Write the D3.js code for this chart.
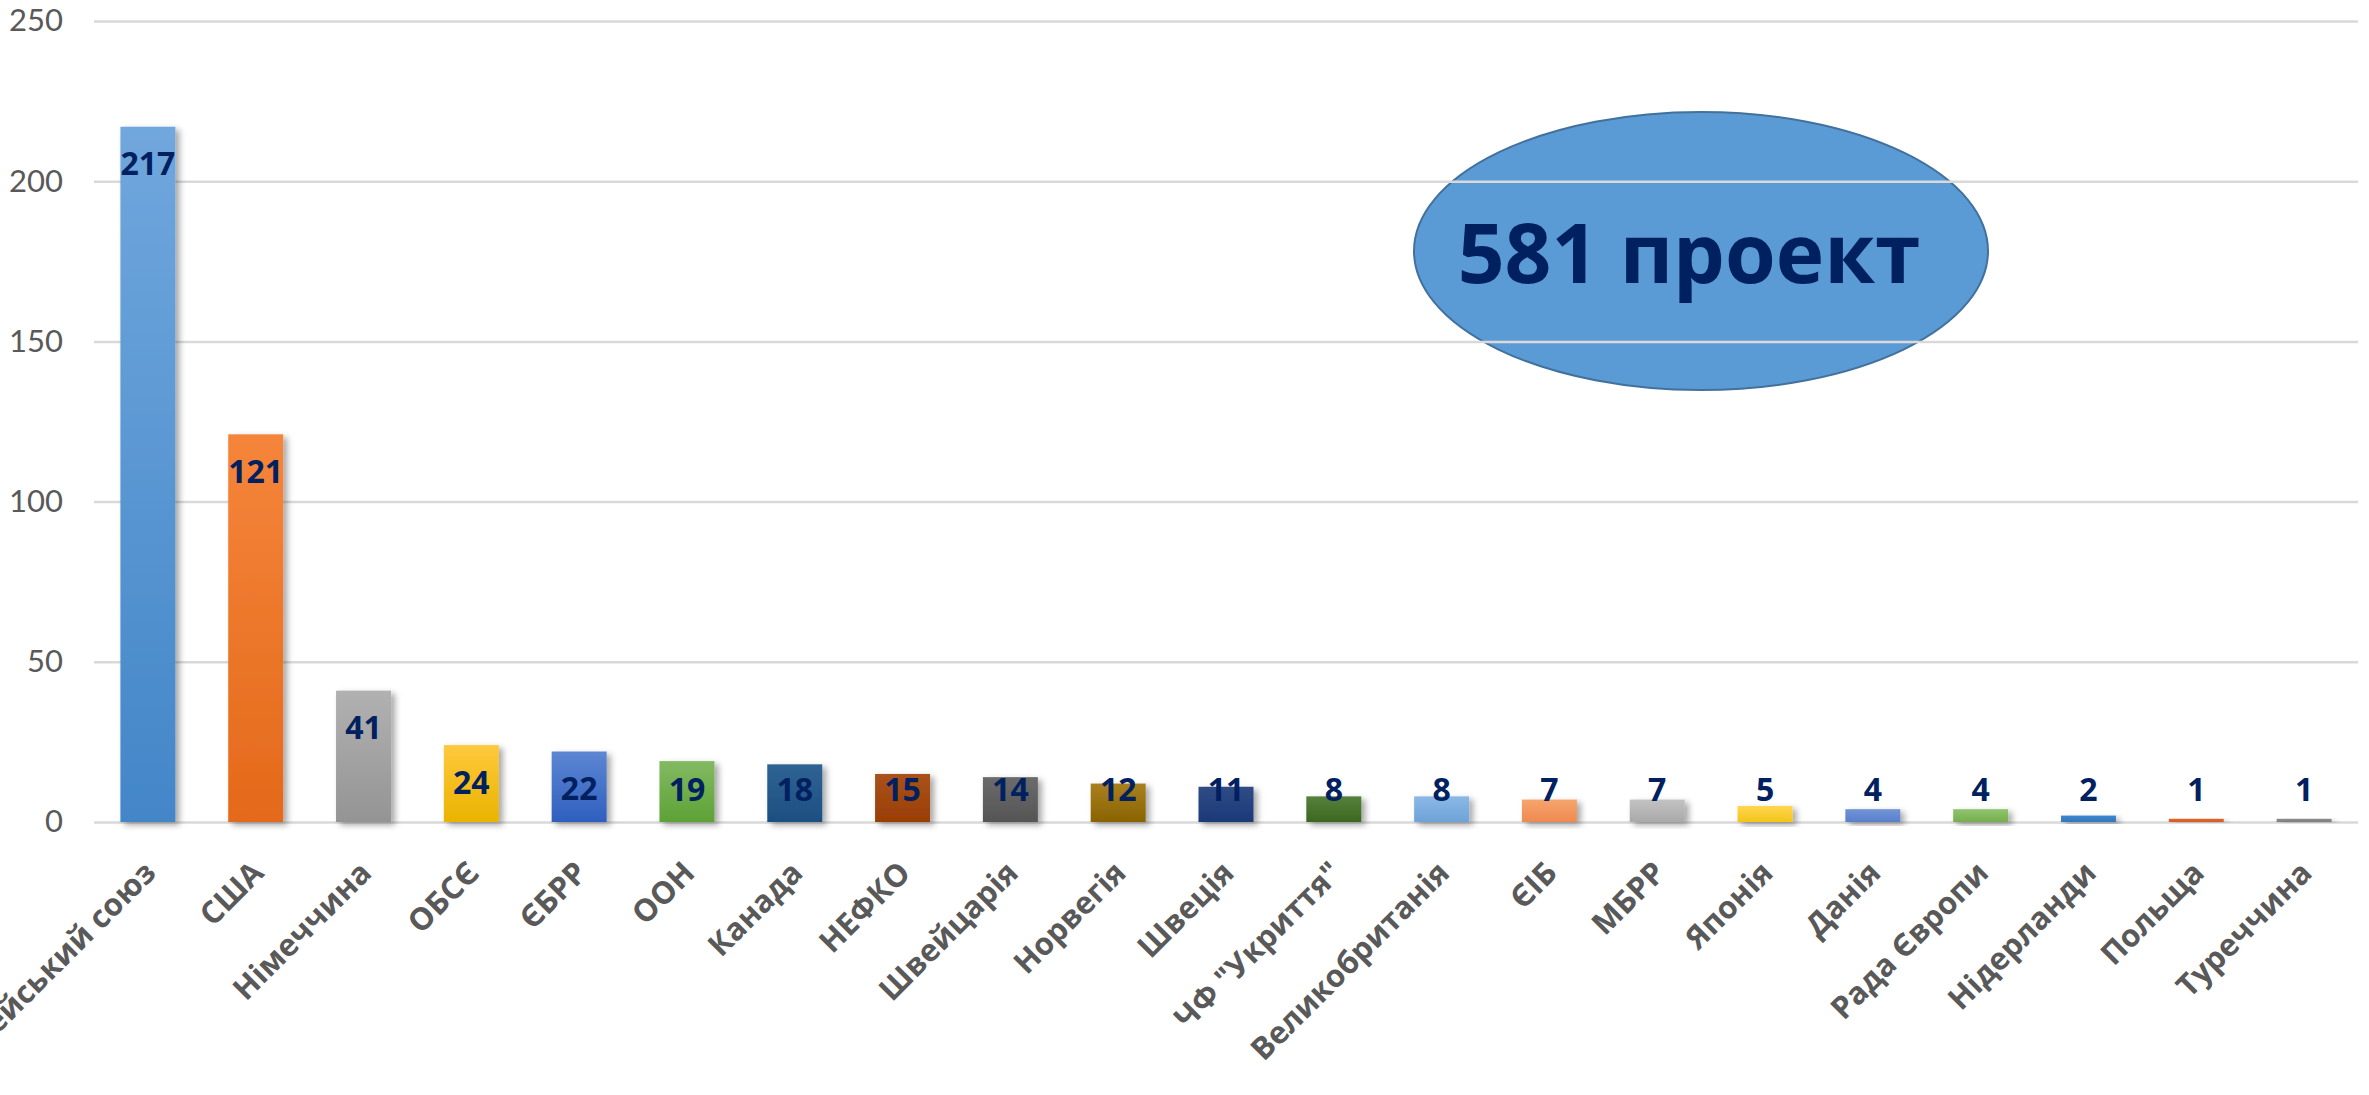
<!DOCTYPE html>
<html>
<head>
<meta charset="utf-8">
<script src="https://cdn.jsdelivr.net/npm/d3@7"></script>
<style>
  body { margin: 0; background: #fff; }
  svg { display: block; }
</style>
</head>
<body>
<div id="chart"></div>
<script>
var width = 2369;
var height = 1095;

// data
var donors = ['Європейський союз', 'США', 'Німеччина', 'ОБСЄ', 'ЄБРР', 'ООН', 'Канада', 'НЕФКО',
  'Швейцарія', 'Норвегія', 'Швеція', 'ЧФ "Укриття"', 'Великобританія', 'ЄІБ', 'МБРР', 'Японія',
  'Данія', 'Рада Європи', 'Нідерланди', 'Польща', 'Туреччина'];
var projects = [217, 121, 41, 24, 22, 19, 18, 15, 14, 12, 11, 8, 8, 7, 7, 5, 4, 4, 2, 1, 1];
var yTicks = [0, 50, 100, 150, 200, 250];
var totalLabel = '581 проект';

// office-like palette, top and bottom of each bar gradient
var topColors = ['#70a7dd', '#f5853b', '#b1b1b1', '#ffc93c', '#5d86d2', '#82b962', '#2f6393', '#aa521c',
  '#6b6b6b', '#a9801f', '#2f4c86', '#56803b', '#8bb9e6', '#f6a46e', '#c2c2c2', '#ffd64f',
  '#7194d6', '#90c46e', '#3f86cc', '#e2672e', '#8e8e8e'];
var bottomColors = ['#4386c8', '#e4691a', '#949494', '#e9b300', '#2f5fbf', '#5ea236', '#1d4f82', '#9a3e04',
  '#555555', '#896300', '#1b3977', '#3c6821', '#6ea2d8', '#ee8a4f', '#a9a9a9', '#f4c41a',
  '#5a7fcc', '#77ae4f', '#2f78c0', '#d95a20', '#7d7d7d'];

var margin = {left: 94, right: 11, top: 21, bottom: 273};

var svg = d3.select('#chart').append('svg')
  .attr('width', width)
  .attr('height', height);

var defs = svg.append('defs');

var shadow = defs.append('filter')
  .attr('id', 'shadow')
  .attr('x', '-20%').attr('y', '-20%')
  .attr('width', '150%').attr('height', '150%');
shadow.append('feDropShadow')
  .attr('dx', 4).attr('dy', 3)
  .attr('stdDeviation', 3)
  .attr('flood-color', '#000')
  .attr('flood-opacity', 0.35);

donors.forEach((d, i) => {
  var g = defs.append('linearGradient')
    .attr('id', 'grad' + i)
    .attr('x1', 0).attr('y1', 0).attr('x2', 0).attr('y2', 1);
  g.append('stop').attr('offset', '0%').attr('stop-color', topColors[i]);
  g.append('stop').attr('offset', '100%').attr('stop-color', bottomColors[i]);
});

var xScale = d3.scaleBand()
  .domain(donors)
  .range([margin.left, width - margin.right])
  .paddingInner(0.49)
  .paddingOuter(0.245);

var yScale = d3.scaleLinear()
  .domain([0, 250])
  .range([height - margin.bottom, margin.top]);

// callout ellipse sits under the gridlines
svg.append('ellipse')
  .attr('cx', 1701)
  .attr('cy', 251)
  .attr('rx', 287)
  .attr('ry', 139)
  .attr('fill', '#5b9bd5')
  .attr('stroke', '#41719c')
  .attr('stroke-width', 2);

// gridlines + y labels
var yAxis = d3.axisLeft(yScale)
  .tickValues(yTicks)
  .tickSize(-(width - margin.left - margin.right))
  .tickPadding(31);

svg.append('g')
  .attr('id', 'y-axis')
  .attr('transform', 'translate(' + margin.left + ',0)')
  .call(yAxis)
  .call(g => g.select('.domain').remove())
  .call(g => g.selectAll('line').attr('stroke', '#d9d9d9').attr('stroke-width', 2.5))
  .call(g => g.selectAll('text')
    .attr('fill', '#595959')
    .style('font-family', 'Lato, sans-serif')
    .style('font-size', '31px'));

svg.append('text')
  .attr('x', 1689)
  .attr('y', 253)
  .attr('dy', '0.36em')
  .attr('text-anchor', 'middle')
  .attr('fill', '#002060')
  .style('font-family', '"Open Sans", sans-serif')
  .style('font-weight', 'bold')
  .style('font-size', '82px')
  .text(totalLabel);

// bars
svg.selectAll('.bar')
  .data(projects)
  .enter()
  .append('rect')
  .attr('class', 'bar')
  .attr('x', (d, i) => xScale(donors[i]))
  .attr('y', d => yScale(d))
  .attr('width', xScale.bandwidth())
  .attr('height', d => yScale(0) - yScale(d))
  .attr('fill', (d, i) => 'url(#grad' + i + ')')
  .attr('filter', 'url(#shadow)');

// value labels, inside the top end, kept above the base
svg.selectAll('.value')
  .data(projects)
  .enter()
  .append('text')
  .attr('class', 'value')
  .attr('x', (d, i) => xScale(donors[i]) + xScale.bandwidth() / 2)
  .attr('y', d => Math.min(yScale(d) + 37, yScale(0) - 33))
  .attr('dy', '0.36em')
  .attr('text-anchor', 'middle')
  .attr('fill', '#002060')
  .style('font-family', '"Open Sans", sans-serif')
  .style('font-weight', 'bold')
  .style('font-size', '32px')
  .text(d => d);

// category labels, rotated
var base = yScale(0);
svg.selectAll('.cat')
  .data(donors)
  .enter()
  .append('text')
  .attr('class', 'cat')
  .attr('transform', d => 'translate(' + (xScale(d) + xScale.bandwidth() / 2 + 2) + ',' + (base + 45) + ') rotate(-45)')
  .attr('dy', '0.35em')
  .attr('text-anchor', 'end')
  .attr('fill', '#595959')
  .style('font-family', '"Open Sans", sans-serif')
  .style('font-weight', 'bold')
  .style('font-size', '31px')
  .text(d => d);
</script>
</body>
</html>
